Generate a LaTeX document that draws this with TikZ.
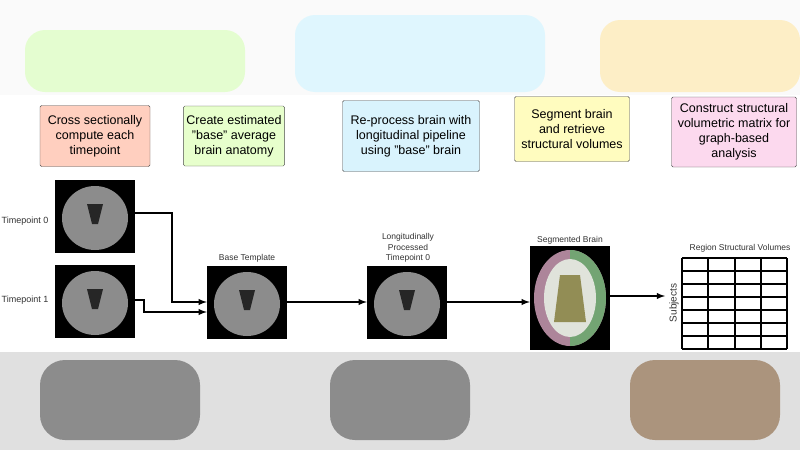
\documentclass[tikz,border=0pt]{standalone}
\usepackage{fontspec}
\setmainfont{Liberation Sans}
\begin{document}
\begin{tikzpicture}[x=1pt,y=-1pt,
  stepbox/.style={draw=black!70,rounded corners=1.5pt,align=center,font=\fontsize{12.5}{15}\selectfont,inner sep=3pt},
  lbl/.style={font=\fontsize{8.5}{10.5}\selectfont,align=center,text=black!80},
  arr/.style={line width=1.8pt,-latex},
  brain/.style={fill=black,minimum width=80pt,minimum height=75pt,inner sep=0pt}]
\useasboundingbox (0,0) rectangle (800,450);
% blurred bands
\fill[white] (0,0) rectangle (800,450);
\fill[black!2] (0,0) rectangle (800,95);
\fill[green!40!lime!25,opacity=.7,rounded corners=20pt] (25,30) rectangle (245,92);
\fill[blue!25!cyan!15,opacity=.8,rounded corners=20pt] (295,15) rectangle (545,92);
\fill[yellow!50!orange!25,opacity=.8,rounded corners=20pt] (600,20) rectangle (800,92);
\fill[black!12] (0,352) rectangle (800,450);
\fill[black!45,rounded corners=25pt] (40,360) rectangle (200,440);
\fill[black!45,rounded corners=25pt] (330,360) rectangle (470,440);
\fill[brown!60!black!60,rounded corners=25pt] (630,360) rectangle (780,440);
% step boxes
\node[stepbox,fill=red!50!orange!25,minimum width=110pt,minimum height=61pt] (s1) at (95,136) {Cross sectionally\\compute each\\timepoint};
\node[stepbox,fill=green!30!lime!20,minimum width=98pt,minimum height=60pt] (s2) at (234,136) {Create estimated\\"base" average\\brain anatomy};
\node[stepbox,fill=cyan!15,minimum width=137pt,minimum height=71pt] (s3) at (411,136) {Re-process brain with\\longitudinal pipeline\\using "base" brain};
\node[stepbox,fill=yellow!25,minimum width=115pt,minimum height=65pt] (s4) at (572,129) {Segment brain\\and retrieve\\structural volumes};
\node[stepbox,fill=magenta!15,minimum width=125pt,minimum height=70pt] (s5) at (734,132) {Construct structural\\volumetric matrix for\\graph-based\\analysis};
% brains
\foreach \n/\cx/\cy in {tp0/95/216, tp1/95/301, base/247/302, lon/407/302}{
  \node[brain,minimum width=80pt,minimum height=73pt] (\n) at (\cx,\cy) {};
  \fill[black!45] (\cx,\cy+2) ellipse (33pt and 32pt);
  \fill[black!85] (\cx-8,\cy-12) -- (\cx+8,\cy-12) -- (\cx+3,\cy+8) -- (\cx-3,\cy+8) -- cycle;
}
\node[brain,minimum width=80pt,minimum height=104pt] (seg) at (570,298) {};
\fill[magenta!40!black!60] (570,298) ellipse (36pt and 48pt);
\fill[green!35!black!55] (570,250) arc (90:-90:36pt and 48pt) -- cycle;
\fill[yellow!40!green!30!black!20!white!80] (570,298) ellipse (26pt and 39pt);
\fill[olive!60!black!70] (560,275) -- (580,275) -- (586,322) -- (554,322) -- cycle;
% table
\foreach \i in {0,...,7} \draw[line width=2pt] (682,258+\i*13) -- (787,258+\i*13);
\foreach \j in {0,...,4} \draw[line width=2pt] (682+\j*26.25,258) -- (682+\j*26.25,349);
\coordinate (tbl) at (665,296);
\node[lbl,rotate=90,font=\fontsize{10}{12}\selectfont] (subj) at (674,303) {Subjects};
% labels
\node[lbl,font=\fontsize{9}{10}\selectfont] (l0) at (25,221) {Timepoint 0};
\node[lbl,font=\fontsize{9}{10}\selectfont] (l1) at (25,300) {Timepoint 1};
\node[lbl] (lb) at (247,258) {Base Template};
\node[lbl] (ll) at (408,248) {Longitudinally\\Processed\\Timepoint 0};
\node[lbl] (ls) at (570,240) {Segmented Brain};
\node[lbl] (lr) at (740,248) {Region Structural Volumes};
% arrows
\draw[arr] (tp0.east |- 0,213) -| (172,302) -- (base.west |- 0,302);
\draw[arr] (tp1.east |- 0,300) -| (144,312) -- (base.west |- 0,312);
\draw[arr] (base.east) -- (lon.west);
\draw[arr] (lon.east) -- (seg.west |- 0,302);
\draw[arr] (seg.east |- 0,296) -- (tbl);
\end{tikzpicture}
\end{document}
